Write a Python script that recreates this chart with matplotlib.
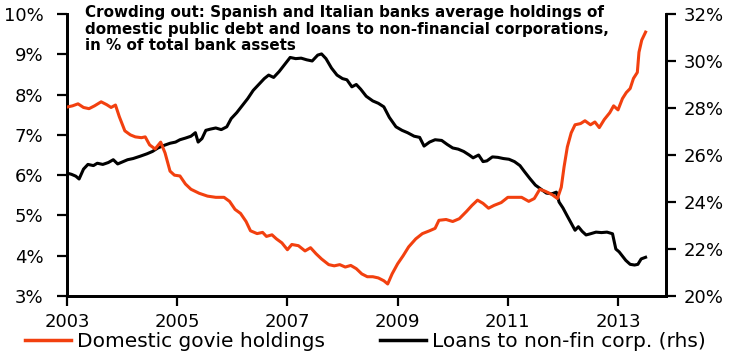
import numpy as np
import matplotlib
matplotlib.use('Agg')
import matplotlib.pyplot as plt
from matplotlib.lines import Line2D

plt.rcParams['font.family'] = ['DejaVu Sans']

ORANGE = '#F2400F'

TITLE = ('Crowding out: Spanish and Italian banks average holdings of\n'
         'domestic public debt and loans to non-financial corporations,\n'
         'in % of total bank assets')

# domestic govie holdings, % (lhs)
govie_years = [2003.00, 2003.10, 2003.20, 2003.30, 2003.40, 2003.50, 2003.62, 2003.72, 2003.80, 2003.88,
               2003.95, 2004.05, 2004.15, 2004.24, 2004.35, 2004.42, 2004.50, 2004.60, 2004.70, 2004.78,
               2004.87, 2004.95, 2005.05, 2005.15, 2005.25, 2005.40, 2005.55, 2005.70, 2005.85, 2005.95,
               2006.05, 2006.15, 2006.25, 2006.33, 2006.45, 2006.55, 2006.62, 2006.72, 2006.80, 2006.90,
               2007.00, 2007.08, 2007.20, 2007.32, 2007.42, 2007.52, 2007.62, 2007.75, 2007.85, 2007.95,
               2008.05, 2008.15, 2008.25, 2008.35, 2008.45, 2008.55, 2008.65, 2008.75, 2008.82, 2008.90,
               2009.00, 2009.10, 2009.20, 2009.33, 2009.45, 2009.58, 2009.68, 2009.75, 2009.88, 2010.00,
               2010.12, 2010.25, 2010.35, 2010.45, 2010.55, 2010.65, 2010.75, 2010.88, 2011.00, 2011.12,
               2011.25, 2011.38, 2011.48, 2011.58, 2011.68, 2011.80, 2011.90, 2011.97, 2012.02, 2012.08,
               2012.15, 2012.22, 2012.32, 2012.40, 2012.50, 2012.58, 2012.66, 2012.75, 2012.85, 2012.92,
               2013.00, 2013.08, 2013.15, 2013.22, 2013.28, 2013.35, 2013.38, 2013.43, 2013.50]
govie_vals = [7.69, 7.72, 7.77, 7.68, 7.65, 7.72, 7.82, 7.75, 7.68, 7.74,
              7.45, 7.10, 7.00, 6.95, 6.93, 6.95, 6.75, 6.65, 6.82, 6.55,
              6.10, 6.00, 5.98, 5.78, 5.65, 5.55, 5.48, 5.45, 5.45, 5.35,
              5.15, 5.05, 4.85, 4.62, 4.55, 4.58, 4.48, 4.52, 4.42, 4.32,
              4.15, 4.28, 4.25, 4.12, 4.20, 4.05, 3.92, 3.78, 3.75, 3.78,
              3.72, 3.76, 3.68, 3.55, 3.48, 3.48, 3.45, 3.38, 3.30, 3.55,
              3.80, 4.00, 4.22, 4.42, 4.55, 4.62, 4.68, 4.88, 4.90, 4.85,
              4.92, 5.10, 5.25, 5.38, 5.30, 5.18, 5.25, 5.32, 5.45, 5.45,
              5.45, 5.35, 5.42, 5.65, 5.60, 5.52, 5.42, 5.70, 6.20, 6.70,
              7.05, 7.25, 7.28, 7.35, 7.25, 7.32, 7.18, 7.38, 7.55, 7.72,
              7.62, 7.90, 8.05, 8.15, 8.40, 8.55, 9.05, 9.35, 9.55]

# loans to non-fin corp., % (rhs)
loans_years = [2003.00, 2003.08, 2003.16, 2003.22, 2003.30, 2003.38, 2003.48, 2003.55, 2003.65, 2003.75,
               2003.84, 2003.92, 2004.00, 2004.10, 2004.20, 2004.33, 2004.45, 2004.55, 2004.65, 2004.75,
               2004.87, 2004.97, 2005.05, 2005.15, 2005.25, 2005.33, 2005.38, 2005.45, 2005.52, 2005.60,
               2005.70, 2005.80, 2005.90, 2005.98, 2006.08, 2006.18, 2006.28, 2006.38, 2006.48, 2006.58,
               2006.66, 2006.75, 2006.85, 2006.95, 2007.05, 2007.15, 2007.25, 2007.35, 2007.45, 2007.55,
               2007.62, 2007.70, 2007.80, 2007.90, 2008.00, 2008.08, 2008.17, 2008.25, 2008.33, 2008.43,
               2008.55, 2008.65, 2008.75, 2008.85, 2008.97, 2009.08, 2009.18, 2009.30, 2009.40, 2009.48,
               2009.58, 2009.68, 2009.80, 2009.90, 2010.00, 2010.10, 2010.20, 2010.30, 2010.37, 2010.47,
               2010.55, 2010.62, 2010.72, 2010.82, 2010.92, 2011.02, 2011.12, 2011.22, 2011.30, 2011.40,
               2011.50, 2011.60, 2011.70, 2011.80, 2011.88, 2011.93, 2012.00, 2012.08, 2012.15, 2012.22,
               2012.28, 2012.35, 2012.42, 2012.50, 2012.60, 2012.70, 2012.80, 2012.90, 2012.96, 2013.02,
               2013.08, 2013.14, 2013.22, 2013.30, 2013.36, 2013.42, 2013.50]
loans_vals = [25.23, 25.18, 25.10, 24.98, 25.40, 25.60, 25.55, 25.65, 25.60, 25.68,
              25.80, 25.62, 25.70, 25.80, 25.85, 25.95, 26.05, 26.15, 26.30, 26.40,
              26.50, 26.55, 26.65, 26.72, 26.80, 26.95, 26.55, 26.70, 27.05, 27.10,
              27.15, 27.08, 27.20, 27.55, 27.80, 28.10, 28.40, 28.75, 29.00, 29.25,
              29.40, 29.30, 29.55, 29.85, 30.15, 30.10, 30.12, 30.05, 30.00, 30.25,
              30.30, 30.10, 29.70, 29.40, 29.25, 29.20, 28.90, 29.00, 28.80, 28.50,
              28.30, 28.20, 28.05, 27.60, 27.20, 27.05, 26.95, 26.80, 26.75, 26.38,
              26.55, 26.65, 26.62, 26.45, 26.30, 26.25, 26.15, 26.00, 25.88, 26.00,
              25.72, 25.75, 25.92, 25.90, 25.85, 25.82, 25.72, 25.55, 25.30, 25.00,
              24.72, 24.55, 24.38, 24.35, 24.42, 24.00, 23.75, 23.40, 23.10, 22.80,
              22.95, 22.75, 22.60, 22.65, 22.72, 22.70, 22.72, 22.65, 22.00, 21.88,
              21.70, 21.52, 21.35, 21.32, 21.35, 21.58, 21.65]

x_ticks = [2003, 2005, 2007, 2009, 2011, 2013]
left_ticks = [3, 4, 5, 6, 7, 8, 9, 10]
right_ticks = [20, 22, 24, 26, 28, 30, 32]

fig = plt.figure(figsize=(7.32, 3.58), dpi=100)
ax = fig.add_axes([0.0915, 0.173, 0.8183, 0.788])
ax2 = ax.twinx()

ax.plot(govie_years, govie_vals, color=ORANGE, lw=2.2, zorder=3)
ax2.plot(loans_years, loans_vals, color='black', lw=2.2)
ax.set_zorder(ax2.get_zorder() + 1)
ax.patch.set_visible(False)

ax.set_xlim(2003, 2013.87)
ax.set_ylim(3, 10)
ax2.set_ylim(20, 32)

ax.set_xticks(x_ticks)
ax.set_xticklabels([str(y) for y in x_ticks])
ax.set_yticks(left_ticks)
ax.set_yticklabels(['%d%%' % v for v in left_ticks])
ax2.set_yticks(right_ticks)
ax2.set_yticklabels(['%d%%' % v for v in right_ticks])

for a in (ax, ax2):
    a.spines['top'].set_visible(False)
    for s in ('left', 'right', 'bottom'):
        a.spines[s].set_linewidth(2)
    a.tick_params(direction='out', length=7, width=1.6, labelsize=13)
ax.tick_params(axis='y', pad=10)
ax.tick_params(axis='x', pad=5)
ax2.tick_params(axis='y', pad=6)

fig.text(0.116, 0.985, TITLE, fontsize=10.9, fontweight='bold', va='top', ha='left',
         linespacing=1.1)

handles = [Line2D([], [], color=ORANGE, lw=2.5), Line2D([], [], color='black', lw=2.5)]
fig.legend(handles, ['Domestic govie holdings', 'Loans to non-fin corp. (rhs)'],
           loc='center left', bbox_to_anchor=(0.034, 0.045), ncol=2, frameon=False,
           fontsize=14.5, handlelength=2.3, handletextpad=0.3, columnspacing=2.7,
           borderpad=0, borderaxespad=0)

fig.savefig('out.png', dpi=100)
